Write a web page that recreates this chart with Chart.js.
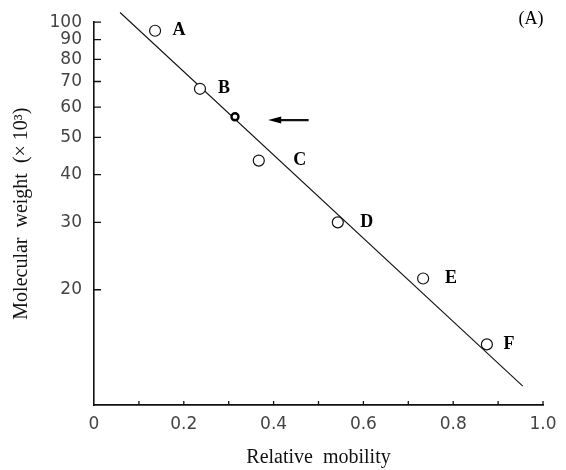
<!DOCTYPE html>
<html>
<head>
<meta charset="utf-8">
<script src="https://cdn.jsdelivr.net/npm/chart.js@4.4.0/dist/chart.umd.min.js"></script>
<style>
  html, body { margin: 0; padding: 0; background: #fff; }
  #wrap { width: 566px; height: 470px; }
</style>
</head>
<body>
<div id="wrap"><canvas id="mwChart" width="566" height="470"></canvas></div>
<script>
// marker proteins: relative mobility vs molecular weight (x10^3)
const markerNames = ['A', 'B', 'C', 'D', 'E', 'F'];
const markerMobility = [0.136, 0.236, 0.367, 0.543, 0.733, 0.875];
const markerWeight = [95, 67, 43.5, 30, 21.4, 14.4];

// the unknown band the arrow points at
const unknownMobility = [0.314];
const unknownWeight = [56.6];

// calibration line end points
const fitMobility = [0.058, 0.955];
const fitWeight = [106, 11.2];

// arrow, tail then head
const arrowMobility = [0.478, 0.388];
const arrowWeight = [55.5, 55.5];

const xTickValues = [0, 0.1, 0.2, 0.3, 0.4, 0.5, 0.6, 0.7, 0.8, 0.9, 1.0];
const xTickLabels = ['0', '', '0.2', '', '0.4', '', '0.6', '', '0.8', '', '1.0'];
const yTickValues = [10, 20, 30, 40, 50, 60, 70, 80, 90, 100];
const yTickLabels = ['', '20', '30', '40', '50', '60', '70', '80', '90', '100'];

// label offsets to the right of each circle (px)
const nameOffsets = [24, 24, 41, 29, 28, 22];

const zip = (xs, ys) => xs.map((x, i) => ({x: x, y: ys[i]}));

const serif = '"Liberation Serif", "Times New Roman", serif';
const sans = '"DejaVu Sans", sans-serif';

// inward tick marks, letters, arrow and panel tag
const frameMarks = {
    id: 'frameMarks',
    afterDatasetsDraw(chart) {
        const ctx = chart.ctx;
        const xs = chart.scales.x;
        const ys = chart.scales.y;
        const area = chart.chartArea;
        ctx.save();
        ctx.strokeStyle = '#111';
        ctx.lineWidth = 1.3;
        ctx.beginPath();
        yTickValues.forEach(v => {
            if (v === 10) return;
            const py = ys.getPixelForValue(v);
            ctx.moveTo(area.left, py);
            ctx.lineTo(area.left + 7, py);
        });
        xTickValues.forEach(v => {
            if (v === 0) return;
            const px = xs.getPixelForValue(v);
            ctx.moveTo(px, area.bottom);
            ctx.lineTo(px, area.bottom - 4);
        });
        ctx.stroke();

        ctx.fillStyle = '#000';
        ctx.font = 'bold 18px ' + serif;
        ctx.textAlign = 'center';
        ctx.textBaseline = 'middle';
        markerNames.forEach((name, i) => {
            const px = xs.getPixelForValue(markerMobility[i]);
            const py = ys.getPixelForValue(markerWeight[i]);
            ctx.fillText(name, px + nameOffsets[i], py);
        });

        ctx.font = '18px ' + serif;
        ctx.fillText('(A)', 531, 19);

        const tx = xs.getPixelForValue(arrowMobility[0]);
        const ty = ys.getPixelForValue(arrowWeight[0]);
        const hx = xs.getPixelForValue(arrowMobility[1]);
        const hy = ys.getPixelForValue(arrowWeight[1]);
        ctx.lineWidth = 2.2;
        ctx.beginPath();
        ctx.moveTo(tx, ty);
        ctx.lineTo(hx + 8, hy);
        ctx.stroke();
        ctx.beginPath();
        ctx.moveTo(hx, hy);
        ctx.lineTo(hx + 13, hy - 3.5);
        ctx.lineTo(hx + 13, hy + 3.5);
        ctx.closePath();
        ctx.fill();
        ctx.restore();
    }
};

new Chart(document.getElementById('mwChart'), {
    type: 'scatter',
    data: {
        datasets: [
            {
                label: 'markers',
                data: zip(markerMobility, markerWeight),
                pointRadius: 5.5,
                pointBorderWidth: 1.2,
                pointBorderColor: '#111',
                pointBackgroundColor: '#fff'
            },
            {
                label: 'unknown',
                data: zip(unknownMobility, unknownWeight),
                pointRadius: 3.5,
                pointBorderWidth: 2.4,
                pointBorderColor: '#000',
                pointBackgroundColor: '#fff'
            },
            {
                label: 'fit',
                data: zip(fitMobility, fitWeight),
                showLine: true,
                borderColor: '#111',
                borderWidth: 1.1,
                pointRadius: 0,
                clip: false
            }
        ]
    },
    options: {
        responsive: false,
        animation: false,
        devicePixelRatio: 1,
        layout: {padding: {left: 0, top: 17, right: 23, bottom: 0}},
        plugins: {legend: {display: false}, tooltip: {enabled: false}},
        scales: {
            x: {
                type: 'linear',
                min: 0,
                max: 1,
                afterBuildTicks: s => { s.ticks = xTickValues.map(v => ({value: v})); },
                afterFit: s => { s.height = 65; },
                grid: {display: false, drawTicks: false},
                border: {display: true, color: '#111', width: 1.8},
                ticks: {
                    autoSkip: false,
                    maxRotation: 0,
                    padding: 9,
                    color: '#444',
                    font: {family: sans, size: 17},
                    callback: (v, i) => xTickLabels[i]
                },
                title: {
                    display: true,
                    text: 'Relative  mobility',
                    color: '#111',
                    font: {family: serif, size: 20},
                    padding: {top: 0, bottom: 0}
                }
            },
            y: {
                type: 'logarithmic',
                min: 10,
                max: 100,
                afterBuildTicks: s => { s.ticks = yTickValues.map(v => ({value: v})); },
                afterFit: s => { s.width = 94; },
                grid: {display: false, drawTicks: false},
                border: {display: true, color: '#111', width: 1.6},
                ticks: {
                    autoSkip: false,
                    padding: 12,
                    color: '#444',
                    font: {family: sans, size: 17},
                    callback: (v, i) => yTickLabels[i]
                },
                title: {
                    display: true,
                    text: 'Molecular  weight  (× 10³)',
                    color: '#111',
                    font: {family: serif, size: 20},
                    padding: {top: 10, bottom: 0}
                }
            }
        }
    },
    plugins: [frameMarks]
});
</script>
</body>
</html>
